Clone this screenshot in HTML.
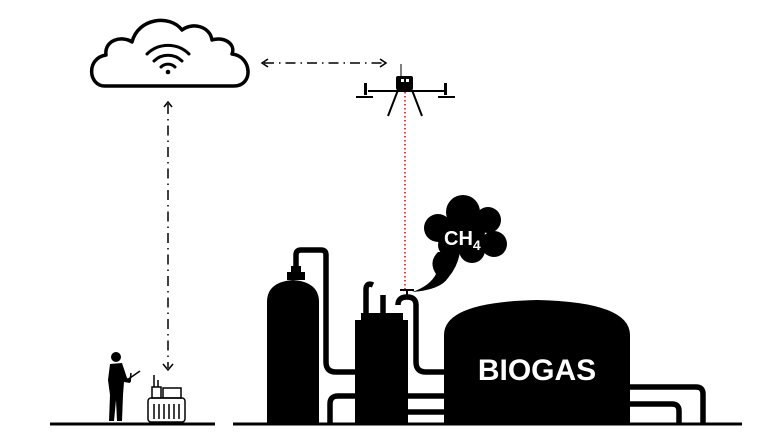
<!DOCTYPE html>
<html><head><style>body{margin:0;background:#fff}svg{display:block}</style></head><body>
<svg width="768" height="441" viewBox="0 0 768 441" xmlns="http://www.w3.org/2000/svg">
<line x1="50" y1="424" x2="215" y2="424" stroke="#000" stroke-width="3"/>
<line x1="233" y1="424" x2="742" y2="424" stroke="#000" stroke-width="3"/>
<path d="M105,86 C88,86 86,58 106,55 C104,40 122,35 132,42 C138,18 170,14 182,30 C192,22 210,26 212,40 C224,36 236,44 232,54 C252,56 254,86 234,86 Z" fill="none" stroke="#000" stroke-width="3.5" stroke-linejoin="round"/>
<g fill="none" stroke="#000" stroke-width="3" stroke-linecap="round">
<path d="M147,54 A30,30 0 0 1 189,54"/>
<path d="M154,61 A20,20 0 0 1 182,61"/>
<path d="M161,67 A10,10 0 0 1 175,67"/>
</g>
<circle cx="168" cy="72" r="2.3"/>
<line x1="168" y1="104" x2="168" y2="368" stroke="#000" stroke-width="1.5" stroke-dasharray="10,5,1.5,5"/>
<path d="M164,107 L168,102 L172,107" fill="none" stroke="#000" stroke-width="1.5"/>
<path d="M163,364 L168,370 L173,364" fill="none" stroke="#000" stroke-width="1.5"/>
<line x1="264" y1="63" x2="384" y2="63" stroke="#000" stroke-width="1.5" stroke-dasharray="10,5,1.5,5"/>
<path d="M268,59 L262,63 L268,67" fill="none" stroke="#000" stroke-width="1.5"/>
<path d="M380,59 L386,63 L380,67" fill="none" stroke="#000" stroke-width="1.5"/>
<line x1="401" y1="64" x2="401" y2="78" stroke="#000" stroke-width="1"/>
<rect x="396" y="76" width="17" height="14" rx="2"/>
<rect x="401" y="79" width="3" height="3" fill="#fff"/><rect x="406" y="79" width="3" height="3" fill="#fff"/>
<line x1="368" y1="91" x2="446" y2="91" stroke="#000" stroke-width="2"/>
<rect x="364" y="83" width="3" height="12"/><rect x="444" y="83" width="3" height="12"/>
<line x1="356" y1="97" x2="373" y2="97" stroke="#000" stroke-width="2"/>
<line x1="438" y1="97" x2="455" y2="97" stroke="#000" stroke-width="2"/>
<line x1="398" y1="90" x2="388" y2="116" stroke="#000" stroke-width="2"/>
<line x1="412" y1="90" x2="422" y2="116" stroke="#000" stroke-width="2"/>
<line x1="405" y1="92" x2="405" y2="290" stroke="#d00" stroke-width="1.5" stroke-dasharray="1.5,2.5"/>
<circle cx="116" cy="357" r="5"/>
<path d="M110,364 L122,363 L127,378 L131,380 L130,383 L124,382 L123,395 L122,421 L117,421 L116,400 L114,421 L109,421 L110,395 L108,380 Z"/>
<line x1="127" y1="380" x2="140" y2="371" stroke="#000" stroke-width="1.5"/>
<line x1="130" y1="382" x2="131" y2="373" stroke="#000" stroke-width="1.5"/>
<g fill="none" stroke="#000" stroke-width="1.5">
<rect x="148" y="398" width="37" height="24" rx="3"/>
<rect x="152" y="387" width="9" height="11"/>
<line x1="154" y1="387" x2="154" y2="375"/><line x1="158" y1="387" x2="158" y2="380"/>
<rect x="163" y="388" width="18" height="10"/>
<line x1="154" y1="404" x2="154" y2="419"/><line x1="159" y1="404" x2="159" y2="419"/><line x1="164" y1="404" x2="164" y2="419"/><line x1="169" y1="404" x2="169" y2="419"/><line x1="174" y1="404" x2="174" y2="419"/><line x1="179" y1="404" x2="179" y2="419"/>
</g>
<g fill="none" stroke="#000" stroke-width="5.5">
<path d="M296,275 V255 Q296,250 301,250 H321 Q326,250 326,255 V362 Q326,372 336,372 H360"/>
<path d="M398,305 Q398,297 407,297 Q416,297 416,305 V362 Q416,372 426,372 H450"/>
<path d="M330,424 V404 Q330,396 338,396 H450"/>
<path d="M400,412 H450"/>
<path d="M625,387 H696 Q703,387 703,394 V424"/>
<path d="M625,404 H672 Q679,404 679,411 V424"/>
<path d="M366,315 V290 Q366,282 373,285"/>
<path d="M383,315 V295"/>
</g>
<rect x="400" y="289" width="14" height="2"/><rect x="406" y="289" width="2" height="6"/>
<rect x="291" y="266" width="10" height="10"/>
<rect x="287" y="272" width="18" height="8"/>
<path d="M267,424 V302 Q267,282 293,280 Q319,282 319,302 V424 Z"/>
<rect x="361" y="313" width="42" height="10"/>
<rect x="355" y="320" width="53" height="104"/>
<path d="M444,424 V335 Q444,302 537,300 Q630,302 630,335 V424 Z"/>
<text x="537" y="380" text-anchor="middle" font-family="Liberation Sans, sans-serif" font-weight="bold" font-size="30" fill="#fff">BIOGAS</text>
<g>
<circle cx="463" cy="212" r="17"/><circle cx="438" cy="228" r="14"/><circle cx="488" cy="220" r="13"/>
<circle cx="494" cy="244" r="13"/><circle cx="472" cy="250" r="13"/><circle cx="450" cy="245" r="12"/><circle cx="465" cy="232" r="20"/>
<path d="M438,252 Q428,262 436,274 Q430,286 412,292 Q440,290 448,278 Q458,266 460,252 Z"/>
</g>
<text x="444" y="245" font-family="Liberation Sans, sans-serif" font-weight="bold" font-size="20" fill="#fff">CH<tspan font-size="14" dy="5">4</tspan></text>
</svg>
</body></html>
